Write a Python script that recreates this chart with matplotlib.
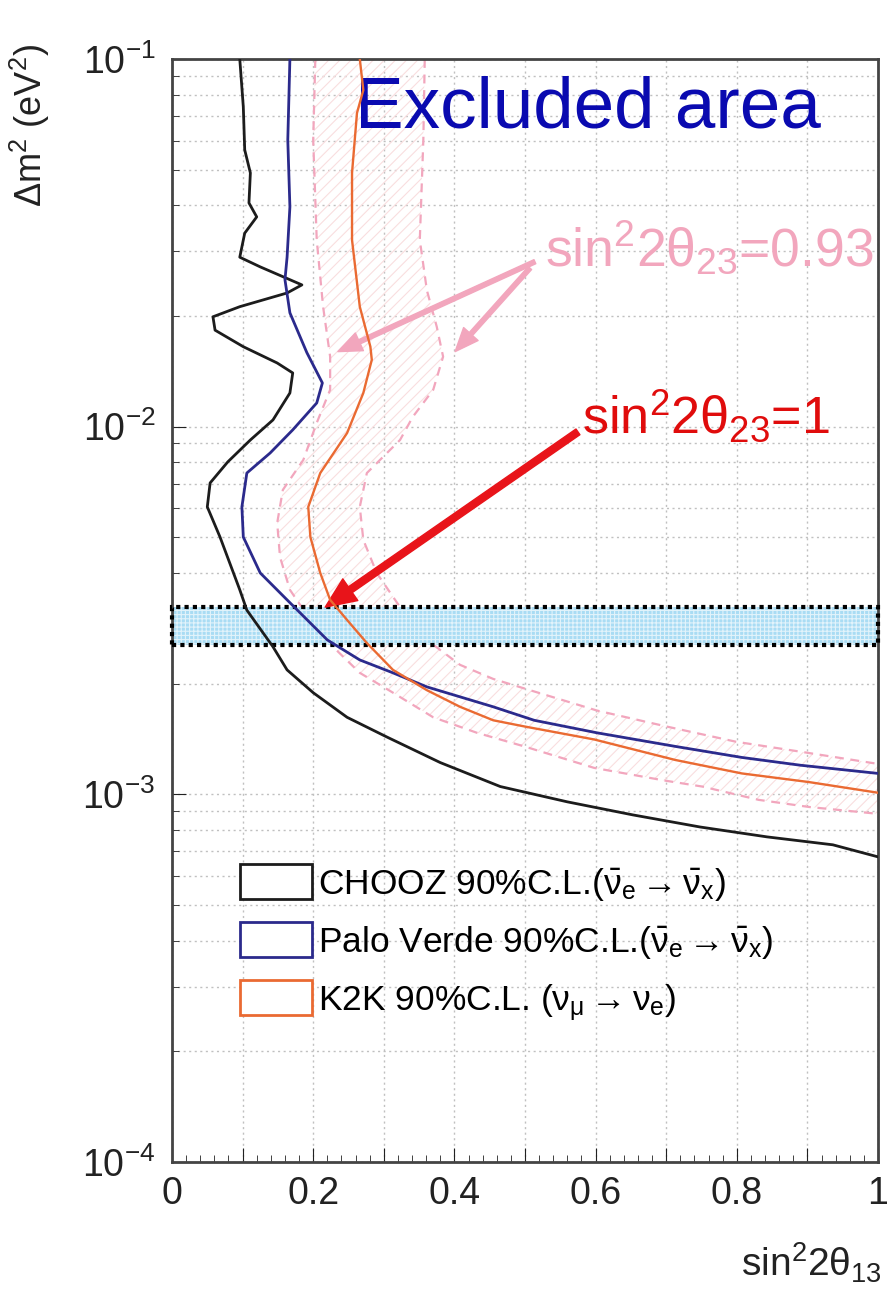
import numpy as np
import matplotlib
matplotlib.use('Agg')
import matplotlib.pyplot as plt
from matplotlib.patches import Rectangle, Patch
from matplotlib.ticker import MultipleLocator, LogLocator, FuncFormatter, NullFormatter

# sin^2(2 theta13) vs dm^2 (eV^2), top to bottom
chooz_x = [0.096, 0.101, 0.103, 0.111, 0.109, 0.120, 0.103, 0.096, 0.125, 0.184, 0.163, 0.096,
           0.058, 0.061, 0.101, 0.149, 0.171, 0.167, 0.143, 0.111, 0.079, 0.054, 0.050, 0.068,
           0.096, 0.106, 0.143, 0.163, 0.200, 0.248, 0.305, 0.380, 0.465, 0.560, 0.653, 0.748,
           0.843, 0.936, 1.0]
chooz_y = [0.1, 0.0741, 0.0566, 0.0490, 0.0406, 0.0372, 0.0336, 0.0289, 0.0272, 0.0243, 0.0231,
           0.0212, 0.0199, 0.0183, 0.0165, 0.0149, 0.0140, 0.01235, 0.01043, 0.0092, 0.00802,
           0.00703, 0.00605, 0.00501, 0.0036, 0.00317, 0.00252, 0.00218, 0.00189, 0.00162,
           0.00143, 0.00122, 0.00105, 0.000954, 0.000879, 0.000815, 0.000766, 0.000729, 0.000676]

paloverde_x = [0.167, 0.164, 0.167, 0.163, 0.160, 0.167, 0.191, 0.213, 0.205, 0.171, 0.139,
               0.106, 0.099, 0.101, 0.125, 0.163, 0.220, 0.266, 0.313, 0.361, 0.455, 0.513,
               0.602, 0.713, 0.807, 0.890, 1.0]
paloverde_y = [0.1, 0.0602, 0.0396, 0.0289, 0.0251, 0.0204, 0.0159, 0.01315, 0.0116, 0.0098,
               0.00848, 0.00748, 0.00605, 0.00501, 0.0040, 0.00338, 0.00263, 0.00232, 0.00214,
               0.00196, 0.00173, 0.00159, 0.00147, 0.00135, 0.00126, 0.0012, 0.00114]

k2k_x = [0.266, 0.271, 0.262, 0.255, 0.255, 0.266, 0.281, 0.283, 0.271, 0.248, 0.210, 0.193,
         0.196, 0.210, 0.224, 0.248, 0.276, 0.313, 0.361, 0.408, 0.455, 0.499, 0.598, 0.713,
         0.807, 0.902, 1.0]
k2k_y = [0.1, 0.0823, 0.0713, 0.049, 0.0322, 0.0212, 0.0165, 0.0152, 0.01235, 0.00961, 0.00748,
         0.00605, 0.00501, 0.0040, 0.00338, 0.00298, 0.00258, 0.00218, 0.00192, 0.00173,
         0.00159, 0.00153, 0.00141, 0.00124, 0.00114, 0.00108, 0.00101]

# sin^2(2 theta23) = 0.93 contours (two octants)
k2k93a_x = [0.203, 0.200, 0.205, 0.214, 0.224, 0.224, 0.205, 0.186, 0.157, 0.149, 0.153, 0.167,
            0.196, 0.228, 0.266, 0.313, 0.370, 0.432, 0.499, 0.598, 0.698, 0.751, 0.831, 0.902, 1.0]
k2k93a_y = [0.1, 0.0602, 0.0322, 0.0212, 0.0155, 0.0126, 0.01024, 0.00812, 0.00673, 0.00547,
            0.00442, 0.0036, 0.00298, 0.00252, 0.00214, 0.00189, 0.00162, 0.00147, 0.00135,
            0.00118, 0.00109, 0.00105, 0.000966, 0.000924, 0.000885]
k2k93b_x = [0.358, 0.356, 0.351, 0.361, 0.375, 0.384, 0.370, 0.341, 0.323, 0.276, 0.266, 0.271,
            0.290, 0.323, 0.361, 0.408, 0.455, 0.507, 0.602, 0.700, 0.799, 0.897, 1.0]
k2k93b_y = [0.1, 0.0602, 0.0322, 0.0235, 0.0187, 0.0155, 0.0126, 0.01063, 0.0092, 0.00748,
            0.00605, 0.00492, 0.0040, 0.00323, 0.00263, 0.00225, 0.00206, 0.00192, 0.00169,
            0.00153, 0.00139, 0.0013, 0.00121]

# atmospheric dm^2 band
band_lo = 0.00255
band_hi = 0.00324

labels = [r'CHOOZ 90%C.L.($\bar{\nu}_e\rightarrow\bar{\nu}_x$)',
          r'Palo Verde 90%C.L.($\bar{\nu}_e\rightarrow\bar{\nu}_x$)',
          r'K2K 90%C.L. ($\nu_\mu\rightarrow\nu_e$)']
xtick_vals = [0, 0.2, 0.4, 0.6, 0.8, 1.0]
xtick_text = ['0', '0.2', '0.4', '0.6', '0.8', '1']

# arrow anchors (tail, head)
pink_arrows = [((0.514, 0.0281), (0.235, 0.0160)), ((0.507, 0.0270), (0.401, 0.0160))]
red_arrow = ((0.575, 0.00968), (0.217, 0.00323))

c_chooz = '#1c1c1c'
c_pv = '#2b2a8c'
c_k2k = '#ea6a32'
c_pink = '#f2a6bd'

plt.rcParams['font.family'] = ['Liberation Sans', 'DejaVu Sans']
plt.rcParams['mathtext.fontset'] = 'custom'
plt.rcParams['mathtext.rm'] = 'Liberation Sans'
plt.rcParams['mathtext.it'] = 'Liberation Sans'
plt.rcParams['mathtext.sf'] = 'Liberation Sans'
plt.rcParams['axes.unicode_minus'] = False
plt.rcParams['hatch.linewidth'] = 0.8


def xfmt(v, pos):
    for t, s in zip(xtick_vals, xtick_text):
        if abs(v - t) < 1e-6:
            return s
    return ''


fig = plt.figure(figsize=(8.88, 12.91), dpi=100)
ax = fig.add_axes([172 / 888, 1 - 1162 / 1291, 706 / 888, 1103 / 1291])
ax.set_yscale('log')
ax.set_xlim(0, 1)
ax.set_ylim(1e-4, 1e-1)

# grid
ax.xaxis.set_major_locator(MultipleLocator(0.1))
ax.xaxis.set_minor_locator(MultipleLocator(0.02))
ax.xaxis.set_major_formatter(FuncFormatter(xfmt))
ax.yaxis.set_major_locator(LogLocator(base=10))
ax.yaxis.set_minor_locator(LogLocator(base=10, subs=np.arange(2, 10)))
ax.yaxis.set_minor_formatter(NullFormatter())
ax.grid(True, which='major', axis='x', color='#c0c0c0', linestyle=(0, (1.5, 2.5)), linewidth=1.0)
ax.grid(True, which='both', axis='y', color='#c0c0c0', linestyle=(0, (1.5, 2.5)), linewidth=1.0)
ax.set_axisbelow(True)

ax.tick_params(which='both', direction='in', labelsize=27, colors='#222222')
ax.tick_params(axis='y', which='major', length=10, pad=12)
ax.tick_params(axis='y', which='minor', length=5)
ax.tick_params(axis='x', which='major', length=10, pad=10)
ax.tick_params(axis='x', which='minor', length=5)
for s in ax.spines.values():
    s.set_linewidth(2)
    s.set_color('#444444')

# hatched K2K 0.93 region between the two dashed contours
ax.fill(np.concatenate([k2k93a_x, k2k93b_x[::-1]]), np.concatenate([k2k93a_y, k2k93b_y[::-1]]),
        facecolor='none', edgecolor='#f9dedf', hatch='///', linewidth=0)
ax.plot(k2k93a_x, k2k93a_y, color=c_pink, lw=1.6, ls=(0, (4, 3)))
ax.plot(k2k93b_x, k2k93b_y, color=c_pink, lw=1.6, ls=(0, (4, 3)))

# atmospheric band
ax.add_patch(Rectangle((0, band_lo), 1, band_hi - band_lo, facecolor='#a9dcf4',
                       edgecolor='#e2f3fb', hatch='++++', linewidth=0, zorder=2))
ax.add_patch(Rectangle((0, band_lo), 1, band_hi - band_lo, facecolor='none',
                       edgecolor='black', linestyle=(0, (1, 1)), linewidth=3, zorder=3, clip_on=False))

ax.plot(chooz_x, chooz_y, color=c_chooz, lw=2.0, zorder=4)
ax.plot(paloverde_x, paloverde_y, color=c_pv, lw=2.0, zorder=4)
ax.plot(k2k_x, k2k_y, color=c_k2k, lw=1.7, zorder=4)

# annotations
ax.text(0.259, 0.938, 'Excluded area', transform=ax.transAxes, color='#0a0ab0',
        fontsize=52.5, va='baseline', ha='left')
ax.text(0.528, 0.0274, r'sin$^2$2$\theta_{23}$=0.93', color=c_pink, fontsize=38.5,
        va='baseline', ha='left')
ax.text(0.581, 0.00955, r'sin$^2$2$\theta_{23}$=1', color='#e00c0c', fontsize=37.5,
        va='baseline', ha='left')
for tail, head in pink_arrows:
    ax.annotate('', xy=head, xytext=tail,
                arrowprops=dict(facecolor=c_pink, edgecolor=c_pink, width=3.2, headwidth=14,
                                headlength=17, shrink=0))
ax.annotate('', xy=red_arrow[1], xytext=red_arrow[0],
            arrowprops=dict(facecolor='#e8141a', edgecolor='#e8141a', width=5, headwidth=19,
                            headlength=22, shrink=0))

handles = [Patch(facecolor='white', edgecolor=c_chooz, linewidth=2),
           Patch(facecolor='white', edgecolor=c_pv, linewidth=2),
           Patch(facecolor='white', edgecolor=c_k2k, linewidth=2)]
leg = ax.legend(handles, labels, loc='upper left', bbox_to_anchor=(0.096, 0.27),
                frameon=False, fontsize=25.5, handlelength=2.05, handleheight=1.15,
                handletextpad=0.15, labelspacing=0.55, borderpad=0, borderaxespad=0)

fig.text(30 / 888, 1 - 44 / 1291, r'$\Delta$m$^2$ (eV$^2$)', rotation=90, fontsize=26,
         ha='center', va='top', color='#222222')
fig.text(882 / 888, 1 - 1277 / 1291, r'sin$^2$2$\theta_{13}$', fontsize=28,
         ha='right', va='baseline', color='#222222')

fig.savefig('out.png', dpi=100)
